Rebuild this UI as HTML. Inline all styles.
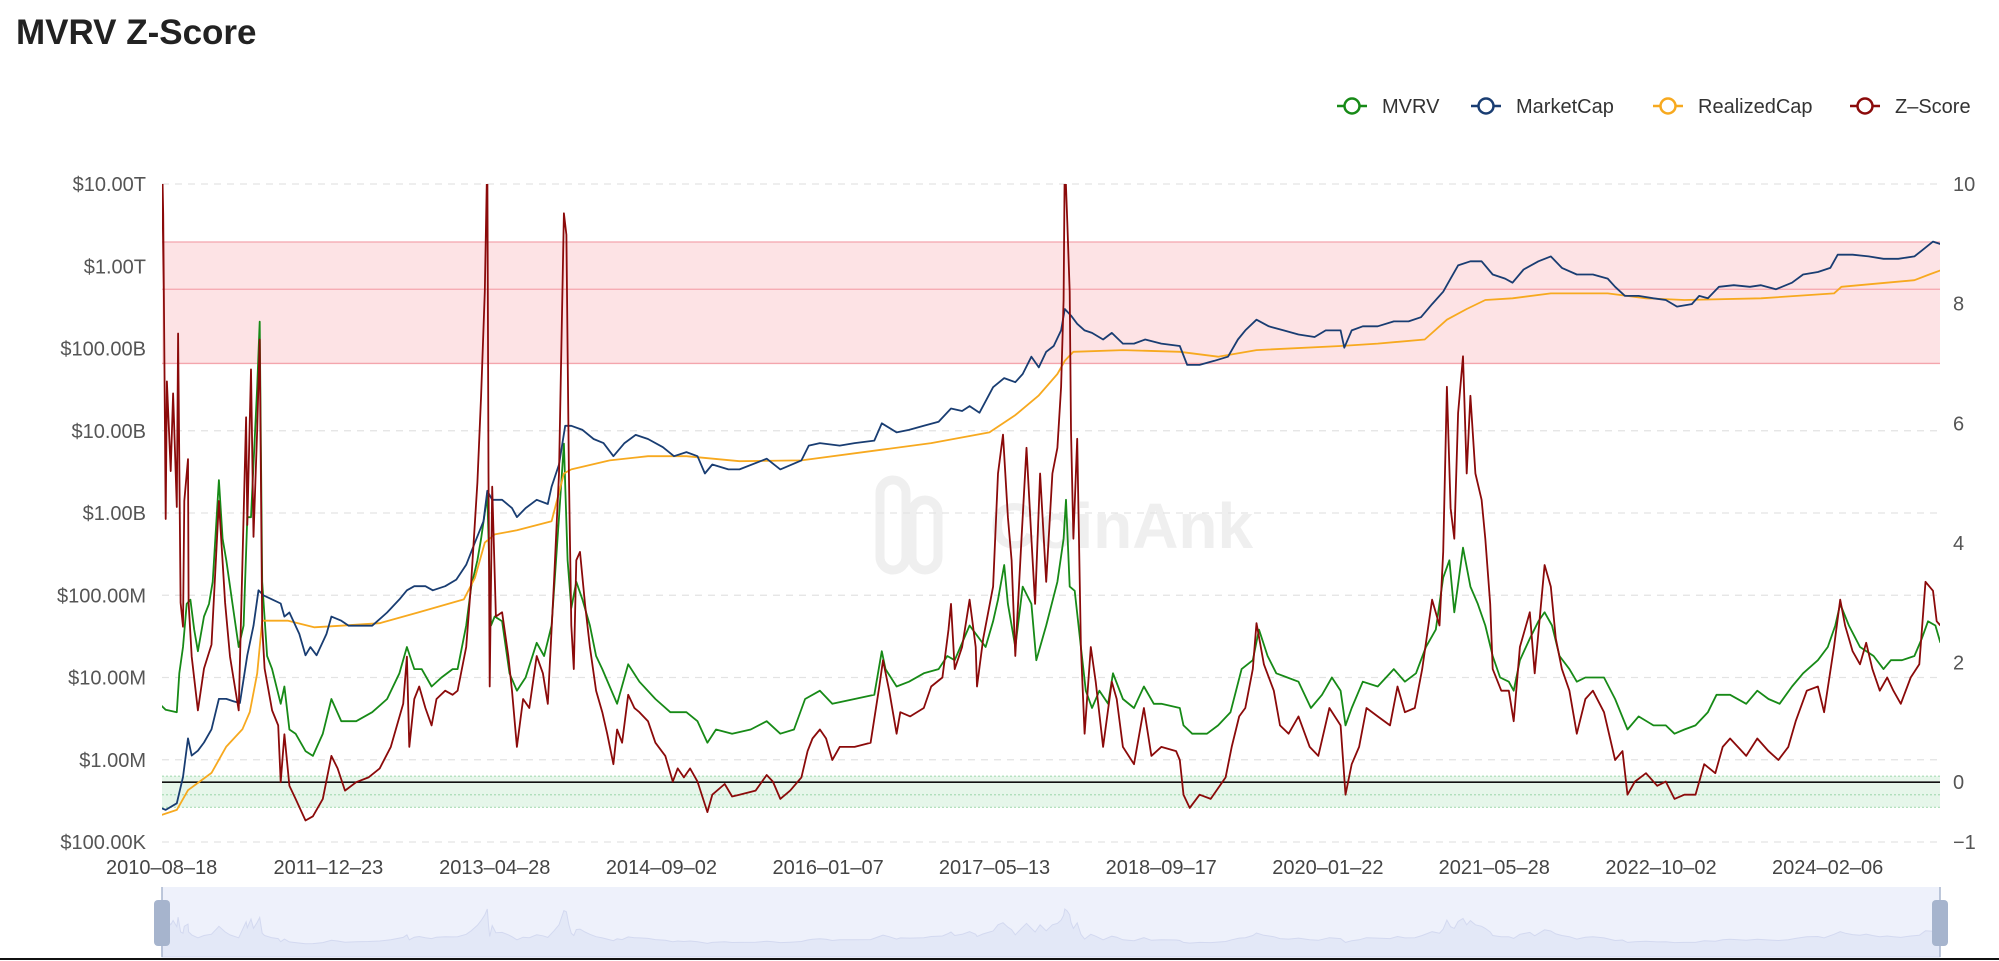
<!DOCTYPE html>
<html><head><meta charset="utf-8"><title>MVRV Z-Score</title>
<style>
html,body{margin:0;padding:0;background:#fff;width:1999px;height:961px;overflow:hidden;font-family:"Liberation Sans",sans-serif}
svg{display:block}
</style></head>
<body>
<svg id="chart" width="1999" height="961" viewBox="0 0 1999 961" xmlns="http://www.w3.org/2000/svg">
<defs><clipPath id="plotclip"><rect x="162" y="184" width="1778" height="658"/></clipPath></defs>
<text x="16" y="44" font-size="35" font-weight="600" fill="#222">MVRV Z-Score</text>
<g>
<rect x="880" y="480" width="26" height="90" rx="13" fill="none" stroke="#efefef" stroke-width="9"/>
<rect x="912" y="500" width="26" height="70" rx="13" fill="none" stroke="#efefef" stroke-width="9"/>
<text x="990" y="548" font-size="64" font-weight="bold" fill="#efefef">CoinAnk</text>
</g>
<g id="grid"></g>
<g id="bands"></g>
<g id="series" clip-path="url(#plotclip)"></g>
<g id="axes"></g>
<g id="legend"></g>
<g id="slider"></g>
</svg>
<script>
// ---- data (decimal year, value) ----
const xTickLabels = ["2010-08-18","2011-12-23","2013-04-28","2014-09-02","2016-01-07","2017-05-13","2018-09-17","2020-01-22","2021-05-28","2022-10-02","2024-02-06"];
const leftTickLog = [5,6,7,8,9,10,11,12,13];
const leftTickLabels = ["$100.00K","$1.00M","$10.00M","$100.00M","$1.00B","$10.00B","$100.00B","$1.00T","$10.00T"];
const rightTicks = [-1,0,2,4,6,8,10];
const redZone = [7.0, 8.24, 9.03];
const greenZone = [-0.42, -0.21, 0.1];
const zScore = [[2010.62,7.4],[2010.63,10.5],[2010.64,9.5],[2010.66,4.4],[2010.67,6.7],[2010.70,5.2],[2010.72,6.5],[2010.75,4.6],[2010.76,7.5],[2010.78,3.0],[2010.80,2.6],[2010.81,4.7],[2010.84,5.4],[2010.845,3.0],[2010.87,2.1],[2010.92,1.2],[2010.97,1.9],[2011.03,2.3],[2011.08,4.3],[2011.09,4.7],[2011.14,3.0],[2011.18,2.1],[2011.25,1.2],[2011.31,6.1],[2011.32,4.3],[2011.35,6.9],[2011.37,4.1],[2011.40,5.9],[2011.42,7.4],[2011.44,2.6],[2011.46,1.9],[2011.52,1.2],[2011.57,0.95],[2011.59,0.0],[2011.62,0.8],[2011.66,-0.06],[2011.71,-0.28],[2011.79,-0.64],[2011.85,-0.57],[2011.93,-0.28],[2012.00,0.44],[2012.05,0.23],[2012.11,-0.14],[2012.20,0.0],[2012.30,0.08],[2012.39,0.23],[2012.48,0.59],[2012.58,1.31],[2012.61,2.1],[2012.63,0.59],[2012.67,1.39],[2012.71,1.6],[2012.76,1.24],[2012.81,0.95],[2012.85,1.39],[2012.92,1.53],[2012.98,1.46],[2013.02,1.53],[2013.09,2.26],[2013.13,3.35],[2013.18,5.01],[2013.21,6.46],[2013.24,8.2],[2013.26,10.5],[2013.27,5.16],[2013.28,1.6],[2013.30,4.94],[2013.33,2.77],[2013.38,2.84],[2013.43,2.11],[2013.46,1.53],[2013.50,0.59],[2013.55,1.39],[2013.60,1.24],[2013.66,2.11],[2013.71,1.82],[2013.75,1.31],[2013.80,3.35],[2013.84,5.16],[2013.88,9.51],[2013.90,9.15],[2013.92,5.16],[2013.94,2.62],[2013.96,1.89],[2013.98,3.71],[2014.01,3.85],[2014.05,2.98],[2014.09,2.26],[2014.14,1.53],[2014.19,1.17],[2014.23,0.81],[2014.28,0.3],[2014.31,0.88],[2014.35,0.66],[2014.40,1.46],[2014.45,1.24],[2014.49,1.17],[2014.56,1.02],[2014.62,0.66],[2014.70,0.44],[2014.76,0.01],[2014.80,0.23],[2014.85,0.08],[2014.90,0.23],[2014.96,0.01],[2015.04,-0.50],[2015.08,-0.21],[2015.18,-0.03],[2015.24,-0.24],
[2015.30,-0.21],[2015.43,-0.14],[2015.52,0.12],[2015.57,0.01],[2015.63,-0.28],[2015.71,-0.14],[2015.80,0.08],[2015.85,0.52],[2015.89,0.73],[2015.95,0.88],[2016.00,0.73],[2016.05,0.37],[2016.11,0.59],[2016.23,0.59],[2016.36,0.66],[2016.43,1.60],[2016.46,2.04],[2016.51,1.53],[2016.57,0.81],[2016.60,1.17],[2016.68,1.10],[2016.79,1.24],[2016.85,1.60],[2016.94,1.75],[2016.99,2.55],[2017.01,2.98],[2017.04,1.89],[2017.10,2.26],[2017.16,3.05],[2017.21,2.26],[2017.22,1.60],[2017.27,2.40],[2017.35,3.27],[2017.39,5.16],[2017.43,5.81],[2017.47,4.43],[2017.50,3.71],[2017.53,2.11],[2017.58,4.07],[2017.62,5.59],[2017.66,4.07],[2017.69,2.98],[2017.73,5.16],[2017.78,3.35],[2017.83,5.16],[2017.87,5.59],[2017.90,6.61],[2017.92,8.06],[2017.93,10.5],[2017.95,9.36],[2017.97,8.20],[2017.98,5.88],[2018.00,4.07],[2018.03,5.74],[2018.06,2.26],[2018.09,0.81],[2018.14,2.26],[2018.18,1.68],[2018.24,0.59],[2018.31,1.68],[2018.35,1.39],[2018.40,0.59],[2018.49,0.30],[2018.57,1.24],[2018.63,0.44],[2018.71,0.59],[2018.83,0.52],[2018.86,0.37],[2018.89,-0.21],[2018.94,-0.43],[2019.02,-0.21],[2019.11,-0.28],[2019.23,0.08],[2019.28,0.59],[2019.34,1.10],[2019.39,1.24],[2019.45,1.89],[2019.48,2.66],[2019.54,1.97],[2019.62,1.53],[2019.67,0.95],[2019.74,0.81],[2019.82,1.10],[2019.91,0.59],[2019.98,0.44],[2020.07,1.24],[2020.16,0.95],
[2020.20,-0.21],[2020.25,0.30],[2020.31,0.59],[2020.37,1.24],[2020.46,1.10],[2020.56,0.95],[2020.62,1.60],[2020.68,1.17],[2020.76,1.24],[2020.82,1.89],[2020.90,3.05],[2020.96,2.62],[2020.99,3.85],[2021.02,6.61],[2021.05,4.58],[2021.08,4.07],[2021.11,6.17],[2021.15,7.12],[2021.18,5.16],[2021.21,6.46],[2021.25,5.16],[2021.30,4.72],[2021.33,4.07],[2021.37,2.98],[2021.39,1.89],[2021.46,1.53],[2021.52,1.53],[2021.56,1.02],[2021.61,2.26],[2021.69,2.84],[2021.73,1.82],[2021.81,3.63],[2021.86,3.27],[2021.90,2.40],[2021.95,1.89],[2022.01,1.53],[2022.07,0.81],[2022.14,1.39],[2022.20,1.53],[2022.29,1.17],[2022.38,0.37],[2022.44,0.52],[2022.48,-0.21],[2022.54,0.01],[2022.63,0.15],[2022.72,-0.06],[2022.79,0.01],[2022.86,-0.28],[2022.94,-0.21],[2023.03,-0.21],[2023.10,0.30],[2023.19,0.15],[2023.25,0.59],[2023.31,0.73],[2023.44,0.44],[2023.53,0.73],[2023.62,0.52],[2023.70,0.37],[2023.78,0.59],[2023.84,1.02],[2023.93,1.53],[2024.02,1.60],[2024.07,1.17],[2024.15,2.26],[2024.20,3.05],[2024.24,2.62],[2024.30,2.19],[2024.36,1.97],[2024.41,2.33],[2024.46,1.89],[2024.52,1.53],[2024.58,1.75],[2024.63,1.53],[2024.69,1.31],[2024.77,1.75],[2024.84,1.97],[2024.89,3.35],[2024.95,3.20],[2024.98,2.69],[2025.01,2.62]];
const mvrv = [[2010.61,1.31],[2010.66,1.21],[2010.75,1.17],[2010.77,1.82],[2010.80,2.26],[2010.83,2.98],[2010.86,3.05],[2010.89,2.55],[2010.92,2.19],[2010.97,2.77],[2011.01,2.98],[2011.04,3.35],[2011.08,4.72],[2011.09,5.05],[2011.12,4.07],[2011.15,3.71],[2011.20,2.98],[2011.25,2.26],[2011.29,2.62],[2011.32,4.43],[2011.35,4.43],[2011.40,6.61],[2011.42,7.70],[2011.44,3.35],[2011.48,2.11],[2011.52,1.89],[2011.59,1.31],[2011.62,1.60],[2011.66,0.88],[2011.71,0.81],[2011.79,0.52],[2011.85,0.44],[2011.93,0.81],[2012.00,1.39],[2012.08,1.02],[2012.20,1.02],[2012.33,1.17],[2012.45,1.39],[2012.55,1.82],[2012.61,2.26],[2012.67,1.89],[2012.73,1.89],[2012.81,1.60],[2012.89,1.75],[2012.98,1.89],[2013.02,1.89],[2013.09,2.62],[2013.13,3.27],[2013.18,3.71],[2013.21,4.07],[2013.26,4.80],[2013.29,2.62],[2013.32,2.77],[2013.38,2.69],[2013.44,1.82],[2013.50,1.53],[2013.57,1.75],[2013.66,2.33],[2013.72,2.11],[2013.78,2.62],[2013.84,4.43],[2013.88,5.66],[2013.91,3.71],[2013.94,2.91],[2013.98,3.35],[2014.03,3.05],[2014.09,2.62],[2014.14,2.11],[2014.19,1.89],[2014.25,1.60],[2014.31,1.31],[2014.40,1.97],[2014.49,1.68],[2014.62,1.39],[2014.74,1.17],[2014.87,1.17],[2014.96,1.02],[2015.04,0.66],[2015.11,0.88],[2015.24,0.81],
[2015.39,0.88],[2015.52,1.02],[2015.63,0.81],[2015.74,0.88],[2015.83,1.39],[2015.95,1.53],[2016.05,1.31],[2016.23,1.39],[2016.39,1.46],[2016.45,2.19],[2016.48,1.89],[2016.57,1.60],[2016.67,1.68],[2016.79,1.82],[2016.91,1.89],[2016.98,2.11],[2017.04,2.04],[2017.16,2.62],[2017.29,2.26],[2017.35,2.69],[2017.39,3.05],[2017.44,3.63],[2017.47,2.98],[2017.53,2.26],[2017.59,3.27],[2017.66,2.98],[2017.70,2.04],[2017.78,2.62],[2017.87,3.35],[2017.92,4.07],[2017.94,4.72],[2017.97,3.27],[2018.01,3.20],[2018.06,2.26],[2018.10,1.53],[2018.15,1.24],[2018.21,1.53],[2018.28,1.31],[2018.32,1.82],[2018.40,1.39],[2018.49,1.24],[2018.57,1.60],[2018.65,1.31],[2018.71,1.31],[2018.86,1.24],[2018.89,0.95],[2018.96,0.81],[2019.08,0.81],[2019.17,0.95],[2019.27,1.17],[2019.36,1.89],[2019.45,2.04],[2019.50,2.55],[2019.57,2.11],[2019.64,1.82],[2019.73,1.75],[2019.82,1.68],[2019.92,1.24],[2020.01,1.46],[2020.09,1.75],[2020.16,1.53],
[2020.20,0.95],[2020.25,1.24],[2020.34,1.68],[2020.46,1.60],[2020.59,1.89],[2020.68,1.68],[2020.77,1.82],[2020.85,2.26],[2020.93,2.55],[2020.99,3.42],[2021.04,3.71],[2021.08,2.84],[2021.15,3.92],[2021.21,3.27],[2021.27,2.98],[2021.33,2.62],[2021.39,2.11],[2021.45,1.75],[2021.52,1.68],[2021.56,1.53],[2021.61,2.04],[2021.69,2.40],[2021.76,2.69],[2021.81,2.84],[2021.87,2.62],[2021.93,2.11],[2022.01,1.89],[2022.07,1.68],[2022.14,1.75],[2022.20,1.75],[2022.29,1.75],[2022.38,1.39],[2022.48,0.88],[2022.57,1.10],[2022.69,0.95],[2022.79,0.95],[2022.86,0.81],[2022.94,0.88],[2023.03,0.95],[2023.13,1.17],[2023.20,1.46],[2023.31,1.46],[2023.44,1.31],[2023.53,1.53],[2023.62,1.39],[2023.71,1.31],[2023.81,1.60],[2023.90,1.82],[2024.02,2.04],[2024.10,2.26],[2024.16,2.62],[2024.20,2.98],[2024.27,2.62],[2024.36,2.26],[2024.47,2.11],[2024.55,1.89],[2024.61,2.04],[2024.70,2.04],[2024.80,2.11],[2024.86,2.40],[2024.91,2.69],[2024.97,2.62],[2025.01,2.33]];
const marketCapLog10 = [[2010.61,5.42],[2010.66,5.39],[2010.75,5.47],[2010.80,5.79],[2010.84,6.26],[2010.87,6.05],[2010.92,6.11],[2010.97,6.21],[2011.03,6.37],[2011.09,6.74],[2011.15,6.74],[2011.21,6.71],[2011.26,6.69],[2011.32,7.27],[2011.37,7.63],[2011.41,8.06],[2011.45,8.00],[2011.52,7.95],[2011.59,7.90],[2011.62,7.74],[2011.66,7.79],[2011.74,7.53],[2011.79,7.27],[2011.83,7.37],[2011.88,7.27],[2011.96,7.53],[2012.00,7.74],[2012.08,7.69],[2012.14,7.63],[2012.20,7.63],[2012.33,7.63],[2012.45,7.79],[2012.55,7.95],[2012.61,8.06],[2012.67,8.11],[2012.76,8.11],[2012.82,8.06],[2012.92,8.11],[2013.01,8.19],[2013.09,8.37],[2013.16,8.64],[2013.23,8.90],[2013.26,9.27],[2013.30,9.16],[2013.38,9.16],[2013.46,9.06],[2013.50,8.95],[2013.57,9.06],[2013.66,9.16],[2013.75,9.11],[2013.78,9.32],[2013.84,9.59],[2013.89,10.06],[2013.94,10.06],[2014.03,10.01],[2014.12,9.90],[2014.20,9.85],[2014.28,9.69],[2014.37,9.85],[2014.46,9.95],[2014.56,9.90],[2014.68,9.80],[2014.77,9.69],[2014.87,9.74],[2014.96,9.69],[2015.02,9.48],[2015.08,9.59],[2015.21,9.53],
[2015.30,9.53],[2015.52,9.66],[2015.63,9.53],[2015.80,9.64],[2015.86,9.82],[2015.95,9.85],[2016.11,9.82],[2016.23,9.85],[2016.39,9.88],[2016.45,10.09],[2016.57,9.98],[2016.67,10.01],[2016.79,10.06],[2016.91,10.11],[2017.01,10.27],[2017.10,10.24],[2017.16,10.30],[2017.24,10.22],[2017.35,10.53],[2017.44,10.64],[2017.53,10.59],[2017.59,10.69],[2017.66,10.90],[2017.72,10.77],[2017.78,10.96],[2017.84,11.03],[2017.90,11.22],[2017.93,11.48],[2017.98,11.40],[2018.03,11.30],[2018.09,11.22],[2018.15,11.19],[2018.24,11.11],[2018.31,11.19],[2018.40,11.06],[2018.49,11.06],[2018.58,11.11],[2018.71,11.06],[2018.86,11.03],[2018.92,10.80],[2019.02,10.80],[2019.14,10.85],[2019.25,10.90],[2019.33,11.11],[2019.39,11.22],[2019.48,11.35],[2019.58,11.27],[2019.70,11.22],[2019.82,11.17],[2019.95,11.14],[2020.04,11.22],[2020.16,11.22],
[2020.19,11.01],[2020.25,11.22],[2020.34,11.27],[2020.46,11.27],[2020.59,11.33],[2020.71,11.33],[2020.81,11.38],[2020.90,11.54],[2020.99,11.69],[2021.05,11.85],[2021.11,12.01],[2021.21,12.06],[2021.30,12.06],[2021.39,11.90],[2021.49,11.85],[2021.55,11.80],[2021.64,11.96],[2021.76,12.06],[2021.86,12.12],[2021.95,11.98],[2022.07,11.90],[2022.20,11.90],[2022.32,11.85],[2022.38,11.75],[2022.46,11.64],[2022.57,11.64],[2022.69,11.61],[2022.79,11.59],[2022.88,11.51],[2023.00,11.54],[2023.06,11.64],[2023.13,11.61],[2023.22,11.75],[2023.34,11.77],[2023.47,11.75],[2023.56,11.77],[2023.68,11.72],[2023.81,11.80],[2023.90,11.90],[2024.02,11.93],[2024.12,11.98],[2024.18,12.14],[2024.30,12.14],[2024.43,12.12],[2024.55,12.09],[2024.67,12.09],[2024.80,12.12],[2024.86,12.19],[2024.95,12.30],[2025.01,12.27]];
const realizedCapLog10 = [[2010.61,5.32],[2010.75,5.39],[2010.84,5.63],[2010.94,5.74],[2011.03,5.84],[2011.15,6.16],[2011.28,6.37],[2011.34,6.58],[2011.40,7.05],[2011.44,7.69],[2011.49,7.69],[2011.65,7.69],[2011.86,7.61],[2012.08,7.63],[2012.39,7.66],[2012.70,7.79],[2013.07,7.95],[2013.16,8.21],[2013.24,8.64],[2013.32,8.74],[2013.50,8.79],[2013.78,8.90],[2013.88,9.48],[2013.94,9.53],[2014.25,9.64],[2014.56,9.69],[2014.87,9.69],[2015.30,9.63],[2015.80,9.64],[2016.45,9.77],[2016.85,9.85],[2017.32,9.98],[2017.53,10.19],[2017.72,10.43],[2017.87,10.69],[2017.93,10.85],[2018.00,10.96],[2018.40,10.98],[2018.86,10.96],[2019.17,10.90],[2019.48,10.98],[2020.16,11.03],[2020.46,11.06],[2020.84,11.11],[2021.02,11.35],[2021.18,11.48],[2021.33,11.59],[2021.55,11.61],[2021.86,11.67],[2022.32,11.67],[2022.63,11.61],[2022.94,11.59],[2023.56,11.61],[2024.15,11.67],[2024.21,11.75],[2024.80,11.83],[2024.92,11.90],[2025.01,11.95]];

// ---- scales ----
const PL=162, PR=1940, PT=184, PB=842;
const X0=2010.63, X1=2025.007;
const x = yr => PL + (yr - X0) / (X1 - X0) * (PR - PL);
const yLog = v => PT + (13 - v) / 8 * (PB - PT);
const yZ = z => PT + (10 - z) / 11 * (PB - PT);
const toYear = s => { const d = new Date(s + "T00:00:00Z"); const y0 = Date.UTC(d.getUTCFullYear(),0,1); const y1 = Date.UTC(d.getUTCFullYear()+1,0,1); return d.getUTCFullYear() + (d - y0)/(y1 - y0); };
const NS = "http://www.w3.org/2000/svg";
function mk(tag, attrs, parent){ const e=document.createElementNS(NS,tag); for(const k in attrs) e.setAttribute(k, attrs[k]); parent.appendChild(e); return e; }

const grid = document.getElementById('grid');
const bands = document.getElementById('bands');
const axes = document.getElementById('axes');
const series = document.getElementById('series');
const legend = document.getElementById('legend');
const slider = document.getElementById('slider');

leftTickLog.forEach((v,i)=>{
  const yy = yLog(v);
  const g = mk('line',{x1:PL,x2:PR,y1:yy,y2:yy,stroke:'#e3e3e3','stroke-width':1.2,'stroke-dasharray':'7,6'},grid);
  
  
  const t = mk('text',{x:146,y:yy+7,'font-size':20,fill:'#555','text-anchor':'end'},axes);
  t.textContent = leftTickLabels[i];
  
  
});
rightTicks.forEach(v=>{
  const t = mk('text',{x:1953,y:yZ(v)+7,'font-size':20,fill:'#555','text-anchor':'start'},axes);
  t.textContent = v < 0 ? '\u2212' + Math.abs(v) : String(v);
  
  
});
xTickLabels.forEach(s=>{
  const xx = x(toYear(s));
  const t = mk('text',{x:xx,y:874,'font-size':20,fill:'#444','text-anchor':'middle'},axes);
  t.textContent = s.replace(/-/g,'\u2013');
  
  
});

const rz = mk('rect',{x:PL,y:yZ(redZone[2]),width:PR-PL,height:yZ(redZone[0])-yZ(redZone[2]),fill:'#fde3e5'},bands);


redZone.forEach(v=>{
  const l = mk('line',{x1:PL,x2:PR,y1:yZ(v),y2:yZ(v),stroke:'#f4a5ad','stroke-width':1.3},bands);
  
  
});
const gz = mk('rect',{x:PL,y:yZ(greenZone[2]),width:PR-PL,height:yZ(greenZone[0])-yZ(greenZone[2]),fill:'#e6f6ea'},bands);


greenZone.forEach(v=>{
  const l = mk('line',{x1:PL,x2:PR,y1:yZ(v),y2:yZ(v),stroke:'#a9dcb5','stroke-width':1.2,'stroke-dasharray':'2,2'},bands);
  
  
});
const zl = mk('line',{x1:PL,x2:PR,y1:yZ(0),y2:yZ(0),stroke:'#111','stroke-width':1.6},bands);



function drawLine(data, yf, color, name){
  const d = data.map((p,i)=>(i?'L':'M')+x(p[0]).toFixed(1)+','+yf(p[1]).toFixed(1)).join('');
  const p = mk('path',{d:d,fill:'none',stroke:color,'stroke-width':1.8,'stroke-linejoin':'round'},series);
  
  
}
drawLine(mvrv, yZ, '#178a17', 'mvrv-line');
drawLine(realizedCapLog10, yLog, '#f7a91f', 'realized-cap-line');
drawLine(marketCapLog10, yLog, '#193d72', 'market-cap-line');
drawLine(zScore, yZ, '#8b0a0a', 'z-score-line');

const legendItems = [['MVRV','#178a17',1337],['MarketCap','#193d72',1471],['RealizedCap','#f7a91f',1653],['Z\u2013Score','#8b0a0a',1850]];
legendItems.forEach(it=>{
  const g = mk('g',{},legend);
  
  
  const x0 = it[2];
  mk('line',{x1:x0,x2:x0+30,y1:106,y2:106,stroke:it[1],'stroke-width':2.5},g);
  mk('circle',{cx:x0+15,cy:106,r:7.5,fill:'#fff',stroke:it[1],'stroke-width':2.5},g);
  const t = mk('text',{x:x0+45,y:113,'font-size':20,fill:'#333'},g);
  t.textContent = it[0];
});

const SY0=887, SY1=957;
const sb = mk('rect',{x:PL,y:SY0,width:PR-PL,height:SY1-SY0,fill:'#eef1fb'},slider);


const ys = z => SY1 - 12 - (z + 1) / 11 * 36;
let ad = 'M'+PL+','+SY1+' ' + zScore.map(p=>'L'+x(p[0]).toFixed(1)+','+ys(Math.min(p[1],10)).toFixed(1)).join(' ') + ' L'+PR+','+SY1+'Z';
const ar = mk('path',{d:ad,fill:'#e3e8f7',stroke:'#d3d9f0','stroke-width':1},slider);


const bl = mk('line',{x1:0,x2:1999,y1:959,y2:959,stroke:'#111','stroke-width':2},slider);


[PL,PR].forEach((hx,i)=>{
  const ln = mk('line',{x1:hx,x2:hx,y1:SY0,y2:SY1,stroke:'#a9b6cf','stroke-width':1.5},slider);
  
  
  const h = mk('rect',{x:hx-8,y:900,width:16,height:46,rx:4,fill:'#a6b4cd'},slider);
  
  
});
</script>
</body></html>
